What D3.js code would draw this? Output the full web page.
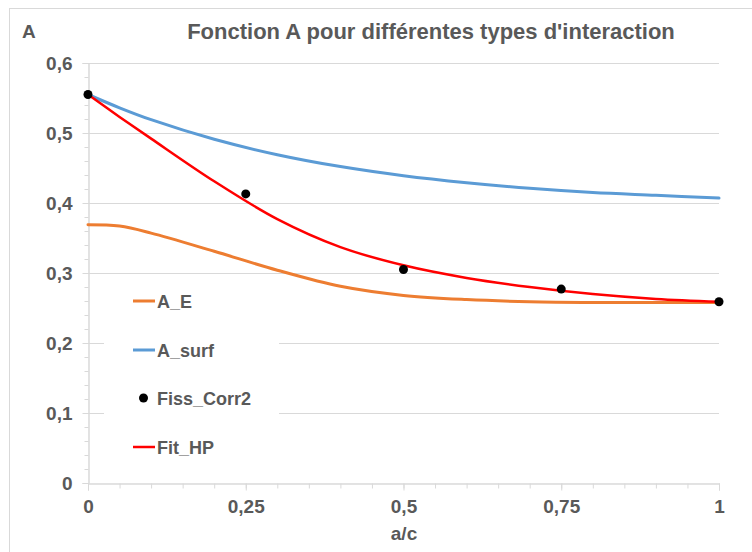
<!DOCTYPE html>
<html lang="fr">
<head>
  <meta charset="UTF-8" />
  <title>Fonction A pour différentes types d'interaction</title>
  <script src="https://d3js.org/d3.v7.min.js"></script>
  <style>
    body {
      margin: 0;
      background: #fff;
      font-family: "Liberation Sans", Arial, sans-serif;
    }
    svg { display: block; }
    .lbl { fill: #595959; font-weight: bold; }
  </style>
</head>
<body>
  <div id="chart"></div>

  <script>
    // abscisses a/c des courbes
    const xCurve = [0, 0.05, 0.1, 0.2, 0.3, 0.4, 0.5, 0.6, 0.7, 0.8, 0.9, 1];
    const aE    = [0.369, 0.367, 0.357, 0.331, 0.304, 0.281, 0.268, 0.262, 0.259, 0.258, 0.258, 0.258];
    const aSurf = [0.555, 0.536, 0.519, 0.491, 0.469, 0.452, 0.439, 0.429, 0.421, 0.415, 0.411, 0.407];
    const fitHP = [0.555, 0.523, 0.492, 0.431, 0.377, 0.337, 0.311, 0.293, 0.280, 0.270, 0.263, 0.259];

    // points Fiss_Corr2
    const xPts = [0, 0.25, 0.5, 0.75, 1];
    const fissCorr2 = [0.555, 0.413, 0.305, 0.277, 0.259];

    const xTicks = [0, 0.25, 0.5, 0.75, 1];
    const xTickLabels = ["0", "0,25", "0,5", "0,75", "1"];
    const yTicks = [0, 0.1, 0.2, 0.3, 0.4, 0.5, 0.6];
    const yTickLabels = ["0", "0,1", "0,2", "0,3", "0,4", "0,5", "0,6"];

    const W = 752, H = 552;
    const gridCol = "#d9d9d9";

    const svg = d3.select("#chart").append("svg")
      .attr("width", W)
      .attr("height", H);

    // cadre du graphique
    svg.append("rect")
      .attr("x", 9.5).attr("y", 8.5)
      .attr("width", 800).attr("height", 600)
      .attr("fill", "#fff")
      .attr("stroke", gridCol);

    const x = d3.scaleLinear().domain([0, 1]).range([88, 719]);
    const y = d3.scaleLinear().domain([0, 0.6]).range([483, 63]);

    // grille horizontale
    svg.append("g")
      .selectAll("line")
      .data(yTicks.slice(1))
      .join("line")
      .attr("x1", x(0)).attr("x2", x(1))
      .attr("y1", d => Math.round(y(d)) + 0.5)
      .attr("y2", d => Math.round(y(d)) + 0.5)
      .attr("stroke", gridCol);

    // sous-graduations
    const minorY = svg.append("g")
      .attr("transform", `translate(${x(0) + 0.5},0)`)
      .call(d3.axisLeft(y).tickValues(d3.range(0, 0.601, 0.02)).tickSize(4).tickFormat(""));
    const minorX = svg.append("g")
      .attr("transform", `translate(0,${Math.round(y(0)) + 0.5})`)
      .call(d3.axisBottom(x).tickValues(d3.range(0, 1.001, 0.05)).tickSize(5).tickFormat(""));

    // graduations principales
    const yAxis = svg.append("g")
      .attr("transform", `translate(${x(0) + 0.5},0)`)
      .call(d3.axisLeft(y).tickValues(yTicks).tickSize(6).tickPadding(10)
        .tickFormat((d, i) => yTickLabels[i]));
    const xAxis = svg.append("g")
      .attr("transform", `translate(0,${Math.round(y(0)) + 0.5})`)
      .call(d3.axisBottom(x).tickValues(xTicks).tickSize(7).tickPadding(9)
        .tickFormat((d, i) => xTickLabels[i]));

    [minorY, minorX, yAxis, xAxis].forEach(g => {
      g.selectAll("path").attr("stroke", gridCol);
      g.selectAll("line").attr("stroke", gridCol);
    });
    [yAxis, xAxis].forEach(g => {
      g.selectAll("text")
        .attr("class", "lbl")
        .style("font-size", "19px")
        .style("font-family", "'Liberation Sans', Arial, sans-serif");
    });

    // cache blanc derrière la légende
    svg.append("rect")
      .attr("x", 104).attr("y", 279)
      .attr("width", 175).attr("height", 195)
      .attr("fill", "#fff");

    const line = d3.line()
      .x((d, i) => x(xCurve[i]))
      .y(d => y(d))
      .curve(d3.curveCatmullRom.alpha(0.5));

    const series = [
      { name: "A_E", values: aE, color: "#ed7d31", width: 3 },
      { name: "A_surf", values: aSurf, color: "#5b9bd5", width: 3 },
      { name: "Fit_HP", values: fitHP, color: "#ff0000", width: 2.5 }
    ];

    series.forEach(s => {
      svg.append("path")
        .datum(s.values)
        .attr("fill", "none")
        .attr("stroke", s.color)
        .attr("stroke-width", s.width)
        .attr("stroke-linecap", "round")
        .attr("d", line);
    });

    svg.append("g")
      .selectAll("circle")
      .data(fissCorr2)
      .join("circle")
      .attr("cx", (d, i) => x(xPts[i]))
      .attr("cy", d => y(d))
      .attr("r", 4.5)
      .attr("fill", "#000");

    // titres
    svg.append("text")
      .attr("class", "lbl")
      .attr("x", 431).attr("y", 39)
      .attr("text-anchor", "middle")
      .style("font-size", "22px")
      .text("Fonction A pour différentes types d'interaction");

    svg.append("text")
      .attr("class", "lbl")
      .attr("x", 22).attr("y", 38)
      .style("font-size", "19px")
      .text("A");

    svg.append("text")
      .attr("class", "lbl")
      .attr("x", 404).attr("y", 540)
      .attr("text-anchor", "middle")
      .style("font-size", "19px")
      .text("a/c");

    // légende
    const legendItems = [
      { name: "A_E", type: "line", color: "#ed7d31", y: 301 },
      { name: "A_surf", type: "line", color: "#5b9bd5", y: 350 },
      { name: "Fiss_Corr2", type: "dot", color: "#000", y: 398 },
      { name: "Fit_HP", type: "line", color: "#ff0000", y: 447 }
    ];

    const legend = svg.append("g");
    legendItems.forEach(it => {
      const row = legend.append("g").attr("transform", `translate(0,${it.y})`);
      if (it.type === "line") {
        row.append("line")
          .attr("x1", 133).attr("x2", 155)
          .attr("y1", 0).attr("y2", 0)
          .attr("stroke", it.color)
          .attr("stroke-width", it.name === "Fit_HP" ? 2.5 : 3);
      } else {
        row.append("circle")
          .attr("cx", 143.5).attr("cy", 0).attr("r", 4.5)
          .attr("fill", it.color);
      }
      row.append("text")
        .attr("class", "lbl")
        .attr("x", 157).attr("y", 6.5)
        .style("font-size", "18px")
        .text(it.name);
    });
  </script>
</body>
</html>
